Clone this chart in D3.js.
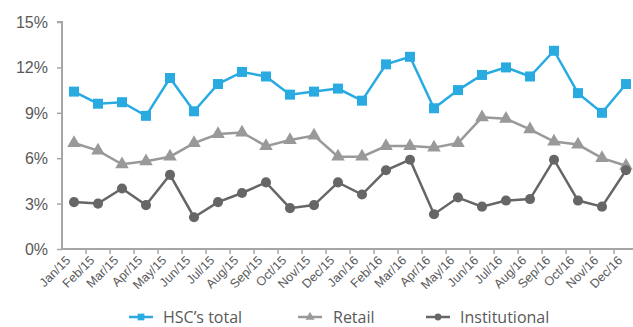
<!DOCTYPE html>
<html>
<head>
<meta charset="utf-8">
<script src="https://cdn.jsdelivr.net/npm/d3@7"></script>
<style>
  body { margin: 0; background: #fff; }
  svg { display: block; font-family: "Open Sans", Lato, sans-serif; }
</style>
</head>
<body>
<div id="main"></div>
<script>
// month labels on the x axis
const months = ["Jan/15","Feb/15","Mar/15","Apr/15","May/15","Jun/15","Jul/15","Aug/15","Sep/15","Oct/15","Nov/15","Dec/15",
  "Jan/16","Feb/16","Mar/16","Apr/16","May/16","Jun/16","Jul/16","Aug/16","Sep/16","Oct/16","Nov/16","Dec/16"];

// series values, in %
const hscTotal = [10.4, 9.6, 9.7, 8.8, 11.3, 9.1, 10.9, 11.7, 11.4, 10.2, 10.4, 10.6,
  9.8, 12.2, 12.7, 9.3, 10.5, 11.5, 12.0, 11.4, 13.1, 10.3, 9.0, 10.9];
const retail = [7.0, 6.5, 5.6, 5.8, 6.1, 7.0, 7.6, 7.7, 6.8, 7.2, 7.5, 6.1,
  6.1, 6.8, 6.8, 6.7, 7.0, 8.7, 8.6, 7.9, 7.1, 6.9, 6.0, 5.5];
const institutional = [3.1, 3.0, 4.0, 2.9, 4.9, 2.1, 3.1, 3.7, 4.4, 2.7, 2.9, 4.4,
  3.6, 5.2, 5.9, 2.3, 3.4, 2.8, 3.2, 3.3, 5.9, 3.2, 2.8, 5.2];

const yTicks = [0, 3, 6, 9, 12, 15];

const seriesList = [
  {name: "HSC\u2019s total", values: hscTotal, color: "#29abe2", symbol: d3.symbolSquare, size: 100},
  {name: "Retail", values: retail, color: "#999999", symbol: d3.symbolTriangle, size: 80},
  {name: "Institutional", values: institutional, color: "#666666", symbol: d3.symbolCircle, size: 80}
];

const ctx = {width: 633, height: 327, left: 62, top: 22, bottom: 249, bandW: 24};

function createViz() {
  const svg = d3.select("#main").append("svg")
    .attr("width", ctx.width)
    .attr("height", ctx.height);

  const x = d3.scaleBand()
    .domain(months)
    .range([ctx.left, ctx.left + ctx.bandW * months.length]);

  const y = d3.scaleLinear()
    .domain([0, 15])
    .range([ctx.bottom, ctx.top]);

  // y axis
  const yAxis = svg.append("g")
    .attr("transform", `translate(${ctx.left},0)`)
    .call(d3.axisLeft(y).tickValues(yTicks).tickSize(5).tickPadding(9).tickFormat(d => d + "%"));
  yAxis.select(".domain").attr("stroke", "#a6a6a6").attr("stroke-width", 2)
    .attr("d", `M-5,${y(15)}H0V${y(0)}`);
  yAxis.selectAll(".tick line").attr("stroke", "#a6a6a6").attr("stroke-width", 1.5);
  yAxis.selectAll(".tick text").attr("fill", "#595959").style("font-size", "16px")
    .attr("dy", "0.34em");

  // x axis, ticks between the months
  const xAxis = svg.append("g")
    .attr("transform", `translate(0,${ctx.bottom})`)
    .call(d3.axisBottom(x).tickSize(0).tickPadding(0));
  xAxis.select(".domain").attr("stroke", "#a6a6a6").attr("stroke-width", 2)
    .attr("d", `M${ctx.left},0H${ctx.width}`);
  xAxis.selectAll(".tick text")
    .attr("fill", "#595959")
    .style("font-size", "12.5px")
    .attr("text-anchor", "end")
    .attr("dy", "0.35em")
    .attr("transform", "translate(-6,9) rotate(-45)");
  xAxis.selectAll(".sep")
    .data(months.slice(1))
    .enter().append("line")
    .attr("class", "sep")
    .attr("x1", d => x(d)).attr("x2", d => x(d))
    .attr("y1", 0).attr("y2", 5)
    .attr("stroke", "#a6a6a6").attr("stroke-width", 1.5);

  const line = d3.line()
    .x((d, i) => x(months[i]) + x.bandwidth() / 2)
    .y(d => y(d));

  seriesList.forEach(s => {
    const g = svg.append("g");
    g.append("path")
      .datum(s.values)
      .attr("d", line)
      .attr("fill", "none")
      .attr("stroke", s.color)
      .attr("stroke-width", 2.5);
    g.selectAll("path.mark")
      .data(s.values)
      .enter().append("path")
      .attr("class", "mark")
      .attr("d", d3.symbol().type(s.symbol).size(s.size))
      .attr("transform", (d, i) => `translate(${x(months[i]) + x.bandwidth() / 2},${y(d)})`)
      .attr("fill", s.color);
  });

  // legend
  const legendX = [129, 298, 426];
  const legend = svg.append("g").attr("transform", "translate(0,317)");
  seriesList.forEach((s, i) => {
    const g = legend.append("g").attr("transform", `translate(${legendX[i]},0)`);
    g.append("line").attr("x1", 0).attr("x2", 24).attr("y1", 0).attr("y2", 0)
      .attr("stroke", s.color).attr("stroke-width", 2.5);
    g.append("path")
      .attr("d", d3.symbol().type(s.symbol).size(s.size * 0.45))
      .attr("transform", "translate(12,0)")
      .attr("fill", s.color);
    g.append("text")
      .attr("x", i === 0 ? 34 : i === 1 ? 35 : 34)
      .attr("y", 0)
      .attr("dy", "0.35em")
      .attr("fill", "#595959")
      .style("font-size", "16px")
      .text(s.name);
  });
}

createViz();
</script>
</body>
</html>
